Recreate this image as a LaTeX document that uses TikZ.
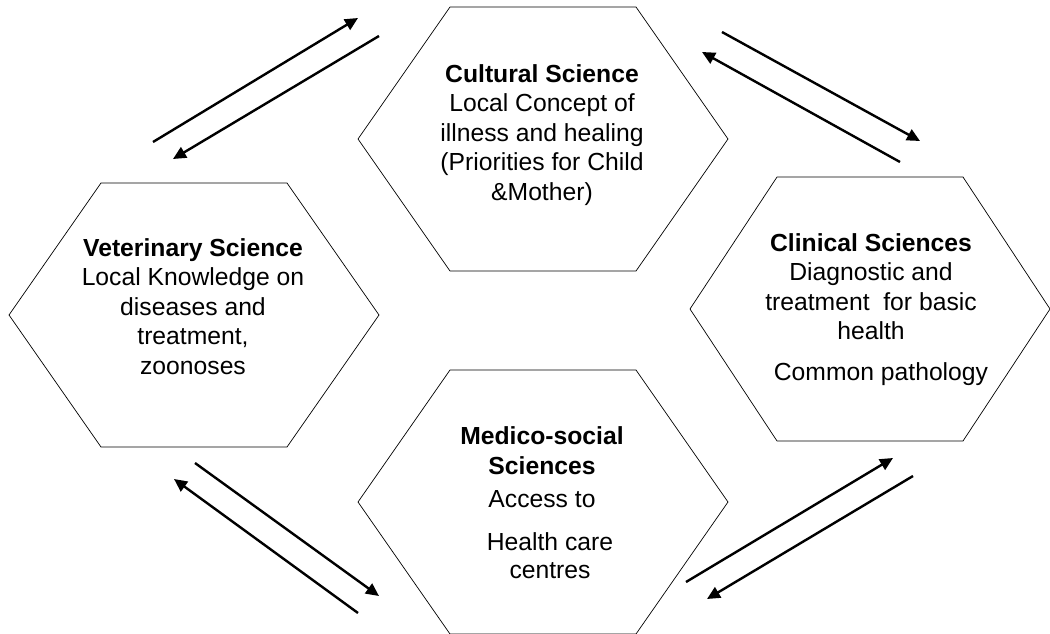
\documentclass[tikz,border=0pt]{standalone}
\usepackage{fontspec}
\setmainfont{Liberation Sans}
\usetikzlibrary{arrows.meta}

\tikzset{
	hexline/.style={draw=black, line width=0.7pt, line join=miter},
	txt/.style={align=center, font=\fontsize{24.7}{29.5}\selectfont, inner sep=0pt, anchor=base},
	flow/.style={line width=2.4pt, -{Triangle[length=13pt,width=12pt]}},
}

\begin{document}
\begin{tikzpicture}[x=1pt,y=-1pt]
	\useasboundingbox (0,0) rectangle (1050,634);

	% hexagon centres
	\coordinate (cult) at (543,139);
	\coordinate (vet) at (194,315);
	\coordinate (clin) at (870,309);
	\coordinate (med) at (543,502);

	\foreach \c/\w in {cult/185,vet/185,clin/180,med/185}
		\draw[hexline] (\c) ++(-\w,0) -- ++({\w-93},-132) -- ++(186,0) -- ++({\w-93},132) -- ++({93-\w},132) -- ++(-186,0) -- cycle;

	% texts (placed at the baseline of their last line)
	\node (cultTxt) [txt] at (542,200) {\textbf{Cultural Science}\\Local Concept of\\illness and healing\\(Priorities for Child\\\&Mother)};
	\node (vetTxt) [txt] at (193,374) {\textbf{Veterinary Science}\\Local Knowledge on\\diseases and\\treatment,\\zoonoses};
	\node (clinTxt) [txt] at (871,380) {\textbf{Clinical Sciences}\\Diagnostic and\\treatment\ \ for basic\\health\\[11pt]\hspace*{20pt}Common pathology};
	\node (medTxt) [txt] at (542,578) {\textbf{Medico-social}\\\textbf{Sciences}\\[4pt]Access to\\[13pt]\hspace*{16pt}Health care\\[-1.5pt]\hspace*{16pt}centres};

	% arrow ends
	\coordinate (v2c-s) at (153,142);
	\coordinate (v2c-e) at (358,18);
	\coordinate (c2v-s) at (379,36);
	\coordinate (c2v-e) at (173,159);

	\coordinate (c2k-s) at (722,32);
	\coordinate (c2k-e) at (920,141);
	\coordinate (k2c-s) at (900,162);
	\coordinate (k2c-e) at (702,52);

	\coordinate (v2m-s) at (195,463);
	\coordinate (v2m-e) at (379,596);
	\coordinate (m2v-s) at (358,613);
	\coordinate (m2v-e) at (174,479);

	\coordinate (m2k-s) at (686,582);
	\coordinate (m2k-e) at (893,458);
	\coordinate (k2m-s) at (913,476);
	\coordinate (k2m-e) at (707,599);

	\draw[flow] (v2c-s) -- (v2c-e);
	\draw[flow] (c2v-s) -- (c2v-e);
	\draw[flow] (c2k-s) -- (c2k-e);
	\draw[flow] (k2c-s) -- (k2c-e);
	\draw[flow] (v2m-s) -- (v2m-e);
	\draw[flow] (m2v-s) -- (m2v-e);
	\draw[flow] (m2k-s) -- (m2k-e);
	\draw[flow] (k2m-s) -- (k2m-e);

\end{tikzpicture}
\end{document}
